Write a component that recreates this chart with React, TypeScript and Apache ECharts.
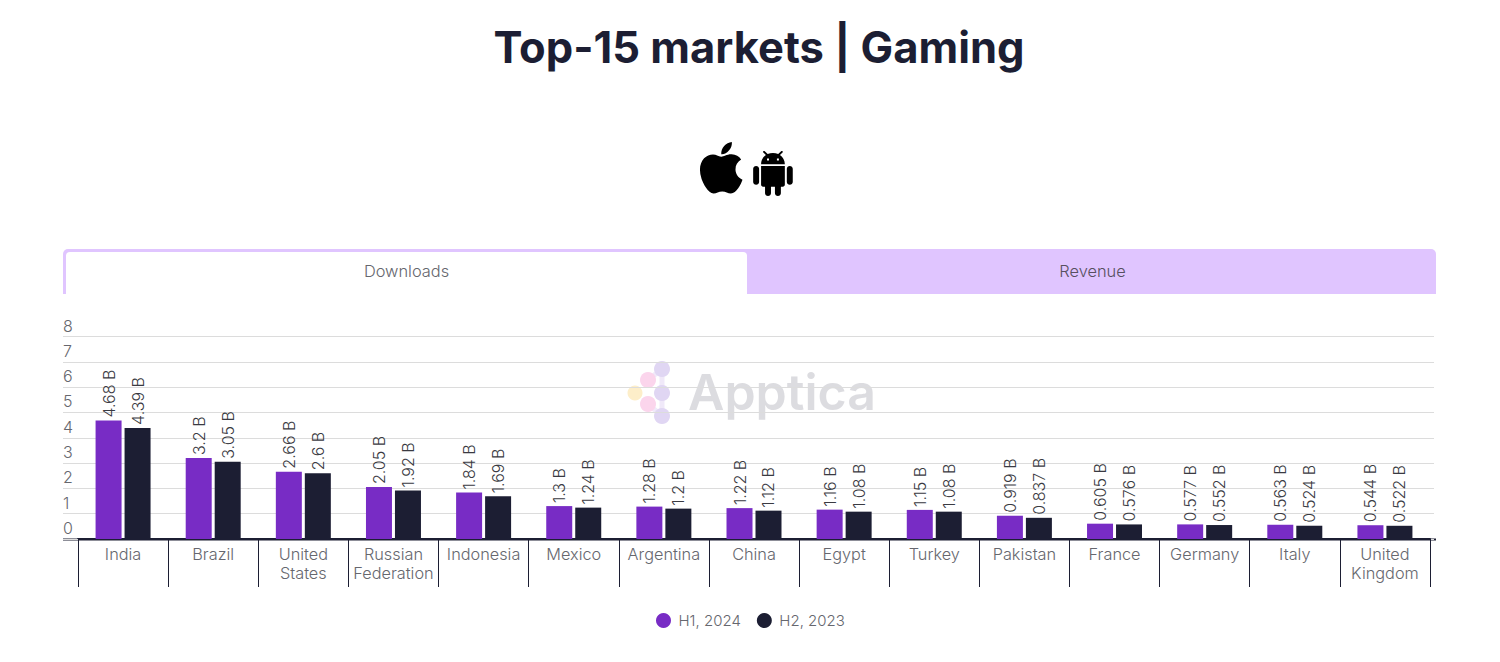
import React, { useEffect, useRef } from "react";
import * as echarts from "echarts";

const titleText = "Top-15 markets | Gaming";
const categories = ["India", "Brazil", "United\nStates", "Russian\nFederation", "Indonesia", "Mexico", "Argentina", "China", "Egypt", "Turkey", "Pakistan", "France", "Germany", "Italy", "United\nKingdom"];
const h1Name = "H1, 2024";
const h2Name = "H2, 2023";
const h1Values = [4.68, 3.2, 2.66, 2.05, 1.84, 1.3, 1.28, 1.22, 1.16, 1.15, 0.919, 0.605, 0.577, 0.563, 0.544];
const h2Values = [4.39, 3.05, 2.6, 1.92, 1.69, 1.24, 1.2, 1.12, 1.08, 1.08, 0.837, 0.576, 0.552, 0.524, 0.522];
const tabs = ["Downloads", "Revenue"];

const FONT = "Inter, 'Noto Sans', sans-serif";
const TEXT = "#66676e";
const INK = "#1c1e33";
const PURPLE = "#782cc5";
const TAB = "#e0c5ff";
const GRID = "#dcdcdc";

const appleD = "M318.7 268.7c-.2-36.7 16.4-64.4 50-84.8-18.8-26.9-47.2-41.7-84.7-44.6-35.5-2.8-74.3 20.7-88.5 20.7-15 0-49.4-19.7-76.4-19.7C63.3 141.2 4 184.8 4 273.5q0 39.3 14.4 81.2c12.8 36.7 59 126.7 107.2 125.2 25.2-.6 43-17.9 75.8-17.9 31.8 0 48.3 17.9 76.4 17.9 48.6-.7 90.4-82.5 102.6-119.3-65.2-30.7-61.7-90-61.7-91.9zm-56.6-164.2c27.3-32.4 24.8-61.9 24-72.5-24.1 1.4-52 16.4-67.9 34.9-17.5 19.8-27.8 44.3-25.6 71.9 26.1 2 49.9-11.4 69.5-34.3z";
const androidD = "M6 18c0 .55.45 1 1 1h1v3.5c0 .83.67 1.5 1.5 1.5s1.5-.67 1.5-1.5V19h2v3.5c0 .83.67 1.5 1.5 1.5s1.5-.67 1.5-1.5V19h1c.55 0 1-.45 1-1V8H6v10zM3.5 8C2.67 8 2 8.67 2 9.5v7c0 .83.67 1.5 1.5 1.5S5 17.33 5 16.5v-7C5 8.67 4.33 8 3.5 8zm17 0c-.83 0-1.5.67-1.5 1.5v7c0 .83.67 1.5 1.5 1.5s1.5-.67 1.5-1.5v-7c0-.83-.67-1.5-1.5-1.5zm-4.97-5.84l1.3-1.3c.2-.2.2-.51 0-.71-.2-.2-.51-.2-.71 0l-1.48 1.48C13.85 1.23 12.95 1 12 1c-.96 0-1.86.23-2.66.63L7.85.15c-.2-.2-.51-.2-.71 0-.2.2-.2.51 0 .71l1.31 1.31C6.97 3.26 6 5.01 6 7h12c0-1.99-.97-3.75-2.47-4.84zM10 5H9V4h1v1zm5 0h-1V4h1v1z";

echarts.graphic.registerShape("appleLogo", echarts.graphic.extendPath(appleD, {}));
echarts.graphic.registerShape("androidLogo", echarts.graphic.extendPath(androidD, {}));

const barLabel = {
  show: true,
  position: "top" as const,
  rotate: 90,
  align: "left" as const,
  verticalAlign: "middle" as const,
  distance: 5,
  offset: [-2, 0],
  fontFamily: FONT,
  fontWeight: 300,
  fontSize: 16,
  color: "#3a3a42",
  formatter: (p: any) => `${p.value} B`,
};

export default function App() {
  const ref = useRef<HTMLDivElement>(null);
  useEffect(() => {
    const chart = echarts.init(ref.current!, undefined, { renderer: "svg" });
    chart.setOption({
      animation: false,
      backgroundColor: "#ffffff",
      title: {
        text: titleText,
        left: 754,
        top: 20,
        textAlign: "center",
        textStyle: { fontFamily: FONT, fontWeight: 700, fontSize: 43.5, color: INK },
      },
      legend: {
        left: 651,
        top: 608,
        icon: "circle",
        itemWidth: 16,
        itemHeight: 15,
        itemGap: 16,
        textStyle: { fontFamily: FONT, fontWeight: 300, fontSize: 15, color: TEXT, padding: [0, 0, 0, 2] },
        data: [h1Name, h2Name],
      },
      grid: { left: 78, right: 70, top: 336.5, height: 202.5 },
      xAxis: {
        type: "category",
        data: categories,
        axisLine: { show: true, lineStyle: { color: INK, width: 2 } },
        axisTick: { show: true, length: 48, lineStyle: { color: INK, width: 1 } },
        axisLabel: { interval: 0, margin: 5, fontFamily: FONT, fontWeight: 300, fontSize: 16.3, lineHeight: 19, color: TEXT },
      },
      yAxis: [
        {
          type: "value",
          min: 0,
          max: 8,
          interval: 1,
          axisLine: { show: false },
          axisTick: { show: true, length: 15, lineStyle: { color: GRID } },
          splitLine: { show: true, lineStyle: { color: GRID, width: 1 } },
          axisLabel: { margin: 15, align: "left", verticalAlign: "bottom", lineHeight: 22, fontFamily: FONT, fontWeight: 300, fontSize: 16, color: TEXT },
        },
        {
          type: "value",
          position: "right",
          min: 0,
          max: 8,
          interval: 1,
          axisLine: { show: false },
          axisTick: { show: true, length: 4, lineStyle: { color: GRID } },
          splitLine: { show: false },
          axisLabel: { show: false },
        },
      ],
      series: [
        { name: h1Name, type: "bar", data: h1Values, barWidth: 26, barGap: "11.5%", itemStyle: { color: PURPLE }, label: barLabel },
        { name: h2Name, type: "bar", data: h2Values, barWidth: 26, barGap: "11.5%", itemStyle: { color: INK }, label: barLabel },
      ],
      graphic: [
        { type: "rect", shape: { x: 63, y: 249, width: 1373, height: 45, r: [5, 5, 0, 0] }, style: { fill: TAB } },
        { type: "rect", shape: { x: 66, y: 252, width: 681, height: 42, r: [4, 4, 0, 0] }, style: { fill: "#ffffff" } },
        { type: "text", x: 406.5, y: 270.5, style: { text: tabs[0], fill: TEXT, font: `300 16.4px ${FONT}`, textAlign: "center", textVerticalAlign: "middle" } },
        { type: "text", x: 1092.5, y: 270.5, style: { text: tabs[1], fill: "#57505f", font: `300 16.4px ${FONT}`, textAlign: "center", textVerticalAlign: "middle" } },
        { type: "appleLogo", x: 699.5, y: 138.3, scaleX: 0.113, scaleY: 0.115, style: { fill: "#000000" } },
        { type: "androidLogo", x: 749.2, y: 151, scaleX: 1.98, scaleY: 1.88, style: { fill: "#000000" } },
        { type: "line", shape: { x1: 63, y1: 539.5, x2: 1436, y2: 539.5 }, style: { stroke: INK, lineWidth: 2 } },
        { type: "polyline", shape: { points: [[648, 380], [662, 369], [662, 416], [648, 404]] }, style: { stroke: "#e9e0f7", lineWidth: 5, fill: "none", opacity: 0.7 } },
        { type: "circle", shape: { cx: 635, cy: 393, r: 7.5 }, style: { fill: "#fdeec9" } },
        { type: "circle", shape: { cx: 648, cy: 380, r: 8 }, style: { fill: "#fbd5ec" } },
        { type: "circle", shape: { cx: 648, cy: 404, r: 8 }, style: { fill: "#fbd5ec" } },
        { type: "circle", shape: { cx: 662, cy: 369, r: 8 }, style: { fill: "#e0d6f3" } },
        { type: "circle", shape: { cx: 662, cy: 393, r: 8 }, style: { fill: "#e0d6f3" } },
        { type: "circle", shape: { cx: 662, cy: 416, r: 8 }, style: { fill: "#e0d6f3" } },
        { type: "text", x: 688, y: 392, style: { text: "Apptica", fill: "#c4c5cb", opacity: 0.6, font: `600 50px ${FONT}`, textAlign: "left", textVerticalAlign: "middle" } },
      ],
    });
    return () => chart.dispose();
  }, []);
  return <div ref={ref} style={{ position: "absolute", left: 0, top: 0, width: 1500, height: 662 }} />;
}
